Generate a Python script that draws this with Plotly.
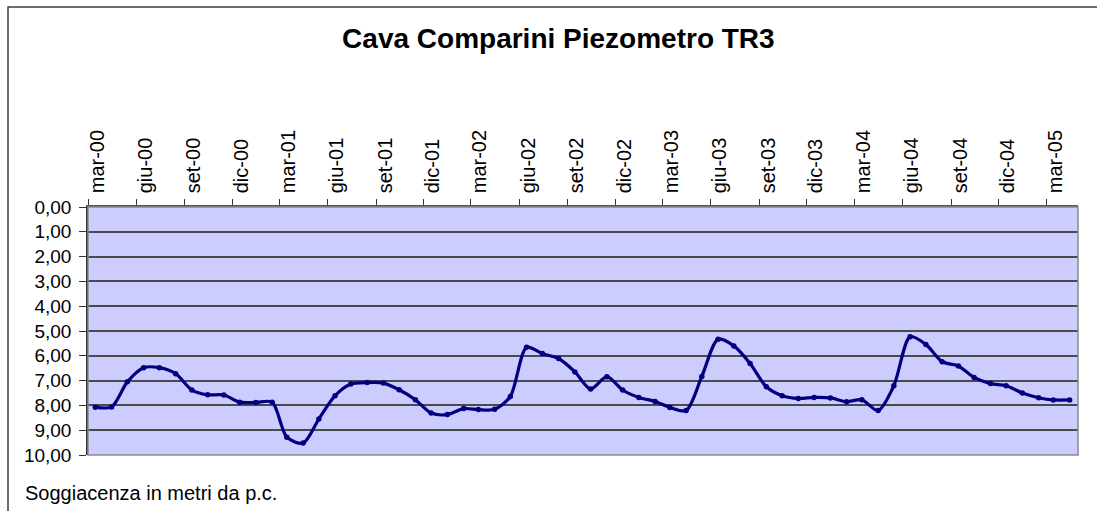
import pandas as pd
import plotly.graph_objects as go

# ---- data ----
start_month = "2000-03-01"
n_months = 62
depth_m = [
    8.07, 8.06, 7.05, 6.48, 6.48, 6.72, 7.38, 7.57, 7.58, 7.87,              # 2000 mar-dic
    7.88, 7.87, 9.28, 9.52, 8.55, 7.61, 7.14, 7.08, 7.10, 7.37, 7.77, 8.31,  # 2001
    8.37, 8.13, 8.17, 8.16, 7.64, 5.66, 5.91, 6.11, 6.65, 7.34, 6.84, 7.38,  # 2002
    7.68, 7.84, 8.08, 8.21, 6.83, 5.33, 5.60, 6.31, 7.25, 7.61, 7.72, 7.68,  # 2003
    7.70, 7.85, 7.77, 8.21, 7.21, 5.23, 5.54, 6.24, 6.41, 6.87, 7.12, 7.21,  # 2004
    7.50, 7.69, 7.78, 7.78,                                                  # 2005 gen-apr
]
it_months = ["gen", "feb", "mar", "apr", "mag", "giu", "lug", "ago", "set", "ott", "nov", "dic"]
tick_dates = pd.date_range("2000-03-01", "2005-03-01", freq="3MS")
tick_text = [f"{it_months[d.month - 1]}-{d.strftime('%y')}" for d in tick_dates]
y_ticks = [0, 1, 2, 3, 4, 5, 6, 7, 8, 9, 10]

title_text = "Cava Comparini Piezometro TR3"
note_text = "Soggiacenza in metri da p.c."

dates = pd.date_range(start_month, periods=n_months, freq="MS") + pd.Timedelta(days=14)

# ---- geometry ----
W, H = 1097, 511
L, R, T, B = 88, 1078, 207, 455
FONT = "Liberation Sans, Arial, sans-serif"

def px_x(px):
    return (px - L) / (R - L)

def px_y(py):
    return 1 - (py - T) / (B - T)

fig = go.Figure()
fig.add_trace(go.Scatter(
    x=dates, y=depth_m, mode="lines+markers",
    line=dict(color="#000080", width=3.2, shape="spline", smoothing=0.8),
    marker=dict(color="#000080", size=5.5),
    hoverinfo="x+y", showlegend=False,
))

fig.update_layout(
    width=W, height=H,
    margin=dict(l=L, r=W - R, t=T, b=H - B, pad=0),
    paper_bgcolor="white",
    plot_bgcolor="#CCCCFF",
    separators=",.",
    font=dict(family=FONT, size=19, color="black"),
    title=dict(
        text=f"<b>{title_text}</b>",
        font=dict(family=FONT, size=28, color="black"),
        xref="container", x=558.4 / W, xanchor="center",
        yref="container", y=1 - 38.5 / H, yanchor="middle",
    ),
    xaxis=dict(
        type="date", side="top",
        range=["2000-03-01", "2005-05-01"],
        tickmode="array", tickvals=tick_dates, ticktext=tick_text,
        tickangle=-90, ticks="outside", ticklen=6, tickwidth=1.2, tickcolor="#333",
        ticklabelshift=9, ticklabelstandoff=2,
        tickfont=dict(family=FONT, size=20, color="black"),
        showgrid=False, zeroline=False,
        showline=True, linecolor="#555", linewidth=1.5,
        automargin=False, fixedrange=True,
    ),
    yaxis=dict(
        range=[10, 0], tickvals=y_ticks, tickformat=".2f",
        ticks="outside", ticklen=7, tickwidth=1.2, tickcolor="#333",
        ticklabelstandoff=4,
        tickfont=dict(family=FONT, size=19, color="black"),
        showgrid=True, gridcolor="#4a4a4a", gridwidth=1.5,
        zeroline=False,
        showline=True, linecolor="#333", linewidth=1.5,
        automargin=False, fixedrange=True,
    ),
    shapes=[
        # plot area border (right / bottom in grey)
        dict(type="rect", xref="paper", yref="paper", x0=0, x1=1, y0=0, y1=1,
             line=dict(color="#8a8a8a", width=1.5), layer="above"),
        # outer chart border
        dict(type="rect", xref="paper", yref="paper",
             x0=px_x(8), x1=px_x(W + 20), y0=px_y(H + 20), y1=px_y(7),
             line=dict(color="#3c3c3c", width=1.5), layer="above"),
    ],
    annotations=[
        dict(text=note_text, xref="paper", yref="paper",
             x=px_x(24), xanchor="left", y=px_y(493), yanchor="middle",
             borderpad=0,
             showarrow=False, font=dict(family=FONT, size=20, color="black")),
    ],
)

fig.write_html(
    "out.html",
    config={"displayModeBar": False},
    post_script="document.body.style.margin='0px';",
)
